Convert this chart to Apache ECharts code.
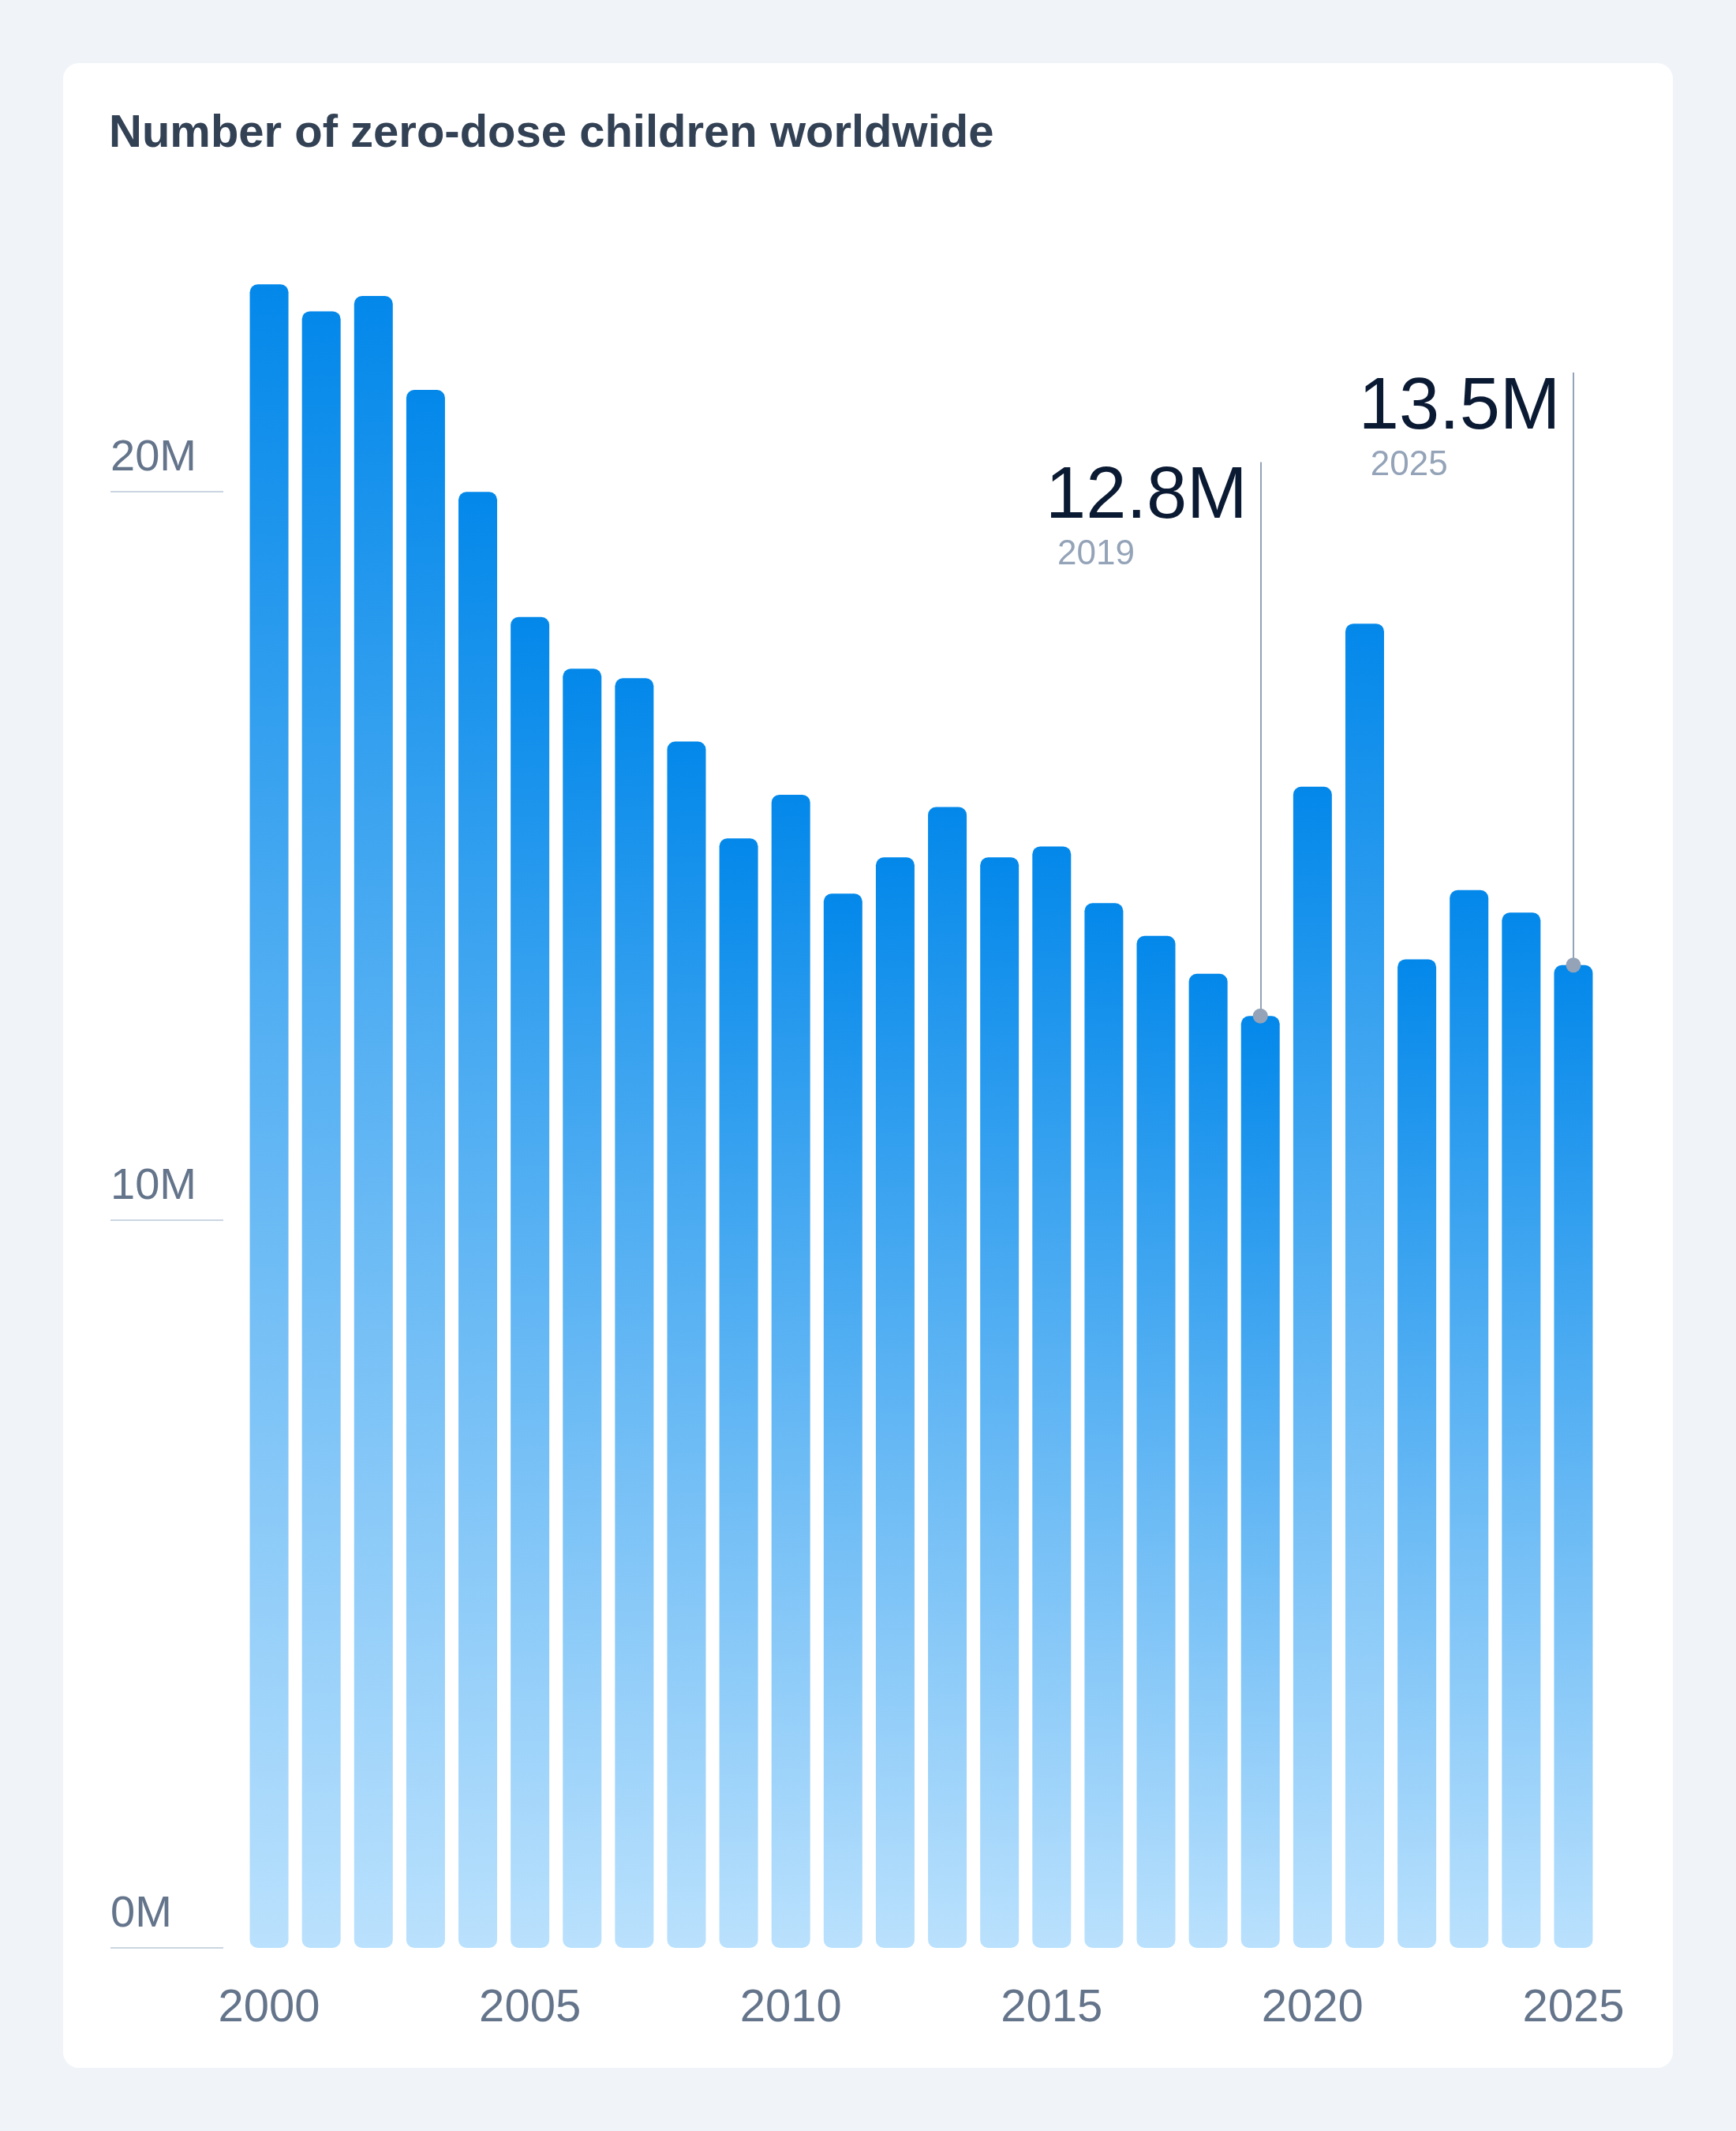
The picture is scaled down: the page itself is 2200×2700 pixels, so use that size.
<!DOCTYPE html>
<html>
<head>
<meta charset="utf-8">
<style>
  html, body { margin: 0; padding: 0; background: #f0f4f8; }
  #chart { width: 2200px; height: 2700px; }
</style>
<script src="https://cdn.jsdelivr.net/npm/echarts@6/dist/echarts.min.js"></script>
</head>
<body>
<div id="chart"></div>
<script>
// ---- Data ----
const titleText = 'Number of zero-dose children worldwide';
const years = ['2000','2001','2002','2003','2004','2005','2006','2007','2008','2009','2010','2011','2012',
               '2013','2014','2015','2016','2017','2018','2019','2020','2021','2022','2023','2024','2025'];
// millions of zero-dose children
const zeroDose = [22.85, 22.48, 22.69, 21.40, 20.00, 18.28, 17.57, 17.44, 16.57, 15.24, 15.84, 14.48, 14.98,
                  15.67, 14.98, 15.13, 14.35, 13.90, 13.38, 12.8, 15.95, 18.19, 13.58, 14.53, 14.22, 13.5];
const yTickValues = [0, 10, 20];
const yTickSuffix = 'M';
// highlighted annotations
const annotYears = ['2019', '2025'];
const annotLabels = ['12.8M', '13.5M'];
const annotLineTop = [20.41, 21.64];   // value where the leader line ends (above the bar)

// ---- Styles ----
const FONT = "'Liberation Sans', Arial, Helvetica, sans-serif";
const zeroY = 2468;

const chart = echarts.init(document.getElementById('chart'), null, { renderer: 'canvas' });

const barGradient = new echarts.graphic.LinearGradient(0, 0, 0, 1, [
  { offset: 0, color: '#0388ea' },
  { offset: 1, color: '#bae1fd' }
]);

const markLineData = annotYears.map((yr, i) => {
  const idx = years.indexOf(yr);
  return [
    { coord: [idx, zeroDose[idx]] },
    { coord: [idx, annotLineTop[i]] }
  ];
});

const markPointData = [];
annotYears.forEach((yr, i) => {
  const idx = years.indexOf(yr);
  // dot on bar top
  markPointData.push({
    coord: [idx, zeroDose[idx]],
    symbol: 'circle',
    symbolSize: 19,
    itemStyle: { color: '#94a3b8' },
    label: { show: false }
  });
  // text label near top of leader line
  markPointData.push({
    coord: [idx, annotLineTop[i]],
    symbol: 'rect',
    symbolSize: 1,
    itemStyle: { color: 'rgba(0,0,0,0)' },
    label: {
      show: true,
      position: [-16, -3],
      align: 'right',
      verticalAlign: 'top',
      formatter: '{v|' + annotLabels[i] + '}\n{y|' + yr + '}',
      rich: {
        v: { fontSize: 92, lineHeight: 98, color: '#0b1a33', fontFamily: FONT },
        y: { fontSize: 44, lineHeight: 46, color: '#94a3b8', fontFamily: FONT, align: 'left', padding: [0, 0, 0, 15] }
      }
    }
  });
});

const option = {
  backgroundColor: '#f0f4f8',
  animation: false,
  graphic: [{
    type: 'rect',
    left: 80, top: 80, z: -10,
    shape: { width: 2040, height: 2540, r: 20 },
    style: { fill: '#ffffff' }
  }],
  title: {
    text: titleText,
    left: 138,
    top: 141,
    padding: 0,
    textStyle: { fontSize: 58, lineHeight: 58, fontWeight: 'bold', color: '#334155', fontFamily: FONT }
  },
  grid: [
    { left: 308, right: 173, top: 162, bottom: 2700 - zeroY, containLabel: false },
    { left: 140, width: 143, top: 623, bottom: 2700 - zeroY, containLabel: false }
  ],
  xAxis: [
    {
      type: 'category',
      gridIndex: 0,
      data: years,
      axisLine: { show: false },
      axisTick: { show: false },
      axisLabel: {
        interval: function (index) { return index % 5 === 0; },
        fontSize: 58,
        lineHeight: 58,
        margin: 48,
        color: '#64748b',
        fontFamily: FONT
      }
    },
    { type: 'value', gridIndex: 1, show: false, min: 0, max: 1 }
  ],
  yAxis: [
    { type: 'value', gridIndex: 0, min: 0, max: 25, show: false, splitLine: { show: false } },
    {
      type: 'value',
      gridIndex: 1,
      min: yTickValues[0],
      max: yTickValues[yTickValues.length - 1],
      interval: yTickValues[1] - yTickValues[0],
      axisLine: { show: false },
      axisTick: { show: false },
      splitLine: { show: true, lineStyle: { color: '#cbd5e1', width: 2 } },
      axisLabel: {
        inside: true,
        margin: 0,
        align: 'left',
        verticalAlign: 'bottom',
        fontSize: 56,
        lineHeight: 84,
        color: '#64748b',
        fontFamily: FONT,
        formatter: function (v) { return v + yTickSuffix; }
      }
    }
  ],
  series: [{
    type: 'bar',
    xAxisIndex: 0,
    yAxisIndex: 0,
    data: zeroDose,
    barWidth: 49,
    itemStyle: { color: barGradient, borderRadius: 10 },
    silent: true,
    markLine: {
      silent: true,
      z: 3,
      symbol: ['none', 'none'],
      label: { show: false },
      lineStyle: { color: '#94a3b8', width: 2, type: 'solid' },
      data: markLineData
    },
    markPoint: {
      silent: true,
      z: 6,
      data: markPointData
    }
  }]
};

chart.setOption(option);
</script>
</body>
</html>
